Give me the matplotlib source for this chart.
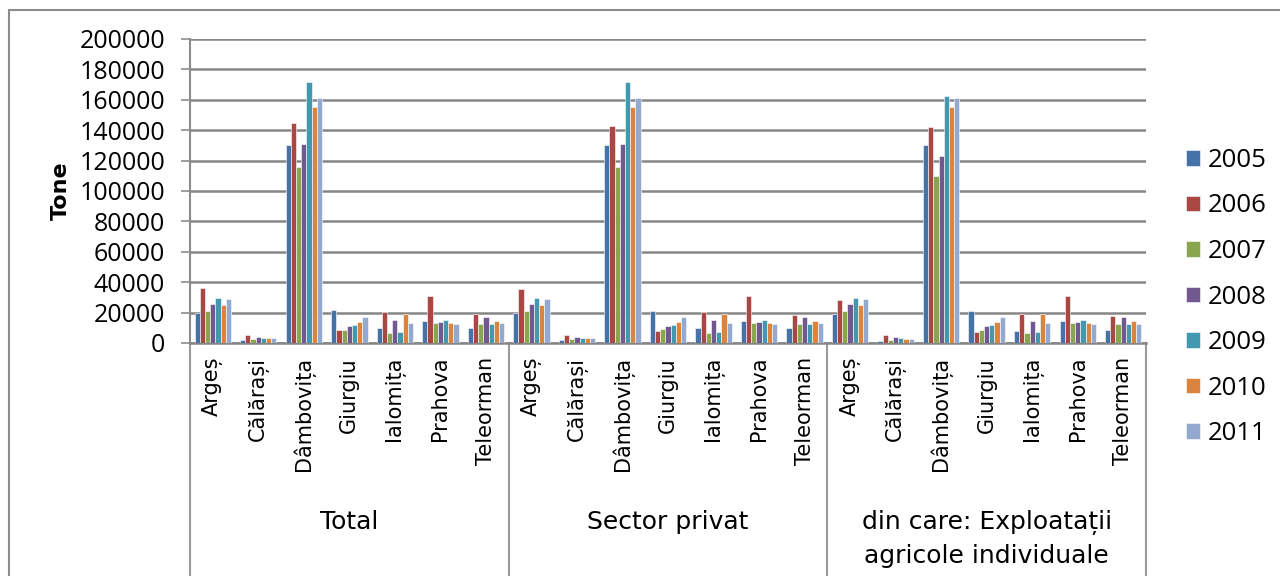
import numpy as np
import matplotlib
matplotlib.use("Agg")
import matplotlib.pyplot as plt
from matplotlib import font_manager
from matplotlib.patches import Rectangle

# data
groups = ["Total", "Sector privat", "din care: Exploatații\nagricole individuale"]
counties = ["Argeș", "Călărași", "Dâmbovița", "Giurgiu", "Ialomița", "Prahova", "Teleorman"]
years = ["2005", "2006", "2007", "2008", "2009", "2010", "2011"]

# rows = county, cols = year
total = [
    [20000, 36400, 21300, 25900, 29400, 24800, 28800],
    [2000, 5000, 2400, 4000, 3100, 3100, 3100],
    [130200, 144700, 115700, 130800, 171700, 155200, 161100],
    [21700, 8600, 8800, 11000, 12100, 13600, 16900],
    [9700, 20200, 6800, 15400, 7500, 19300, 13200],
    [14700, 30700, 13200, 13800, 14900, 13000, 12500],
    [10100, 19100, 12700, 17300, 12500, 14300, 13000],
]
privat = [
    [19800, 35600, 20900, 25900, 29400, 24800, 28800],
    [2000, 5000, 2400, 4000, 3100, 3100, 3100],
    [130200, 142500, 115700, 130800, 171700, 155200, 161100],
    [21300, 8100, 9000, 11000, 12100, 13600, 16900],
    [9700, 20200, 6800, 15400, 7500, 19300, 13200],
    [14300, 30700, 13200, 13800, 14900, 13000, 12500],
    [10100, 18400, 12700, 17300, 12500, 14300, 13000],
]
individuale = [
    [19300, 28100, 20900, 25900, 29400, 24800, 28800],
    [1500, 5000, 2200, 3700, 3100, 2900, 2900],
    [130200, 142000, 109600, 122700, 162200, 155000, 160900],
    [21300, 7500, 8800, 11000, 12100, 13600, 16900],
    [8100, 19100, 6400, 14700, 7200, 19100, 13000],
    [14300, 30700, 13200, 13600, 14900, 13000, 12500],
    [8600, 17800, 12700, 17100, 12500, 14300, 12700],
]
colors = ["#4572A7", "#AA4643", "#89A54E", "#71588F", "#4198AF", "#DB843D", "#93A9CF"]

fam = [f.name for f in font_manager.fontManager.ttflist]
tick_font = "Open Sans" if "Open Sans" in fam else "DejaVu Sans"

fig = plt.figure(figsize=(12.8, 5.76), dpi=100)
W, H = 1280, 576
left, right, top, bottom = 190, 1146, 39, 343
ax = fig.add_axes([left / W, 1 - bottom / H, (right - left) / W, (bottom - top) / H])

# figure border (cropped on right and bottom)
fig.patches.append(Rectangle((9 / W, -0.1), 1.2, 1 - 10 / H + 0.1, transform=fig.transFigure,
                             fill=False, edgecolor="#8c8c8c", linewidth=1.5))

data = np.vstack([np.array(total), np.array(privat), np.array(individuale)])
n_cat = data.shape[0]
x = np.arange(n_cat)
bw = 0.8 / len(years)
for j, yr in enumerate(years):
    ax.bar(x - 0.4 + bw * (j + 0.5), data[:, j], width=bw, color=colors[j],
           edgecolor="white", linewidth=0.4, label=yr, zorder=3)

ax.set_xlim(-0.5, n_cat - 0.5)
ax.set_ylim(0, 200000)
ax.set_yticks(np.arange(0, 200001, 20000))
ax.set_yticklabels([str(v) for v in range(0, 200001, 20000)], fontsize=18, family=tick_font)
ax.tick_params(axis="y", length=6.5, color="#8c8c8c", width=1.2, pad=11.5)
ax.grid(axis="y", color="#868686", linewidth=1.8, zorder=0)
ax.set_axisbelow(True)
for s in ["top", "right"]:
    ax.spines[s].set_visible(False)
ax.spines["left"].set_color("#8c8c8c")
ax.spines["left"].set_linewidth(1.5)
ax.spines["bottom"].set_color("#868686")
ax.spines["bottom"].set_linewidth(1.8)

ax.set_xticks(x)
ax.set_xticklabels(counties * len(groups), rotation=90, fontsize=15, va="top")
ax.tick_params(axis="x", length=0, pad=10)
ax.set_ylabel("Tone", fontsize=16, fontweight="bold", labelpad=6)

# group separators and labels below the axis
for g in range(len(groups) + 1):
    xp = g * len(counties) - 0.5
    ax.plot([xp, xp], [0, -0.78], transform=ax.get_xaxis_transform(), color="#9a9a9a",
            linewidth=1.5, clip_on=False)
for g, name in enumerate(groups):
    xc = g * len(counties) + (len(counties) - 1) / 2
    ax.text(xc, -0.55, name, transform=ax.get_xaxis_transform(), ha="center", va="top",
            fontsize=18, linespacing=1.45)

leg = ax.legend(loc="center left", bbox_to_anchor=(1.031, 0.151), frameon=False,
                fontsize=18.5, handlelength=0.55, handleheight=0.55, handletextpad=0.3,
                labelspacing=0.8, borderaxespad=0)
for t in leg.get_texts():
    t.set_family(tick_font)

fig.savefig("out.png", dpi=100)
